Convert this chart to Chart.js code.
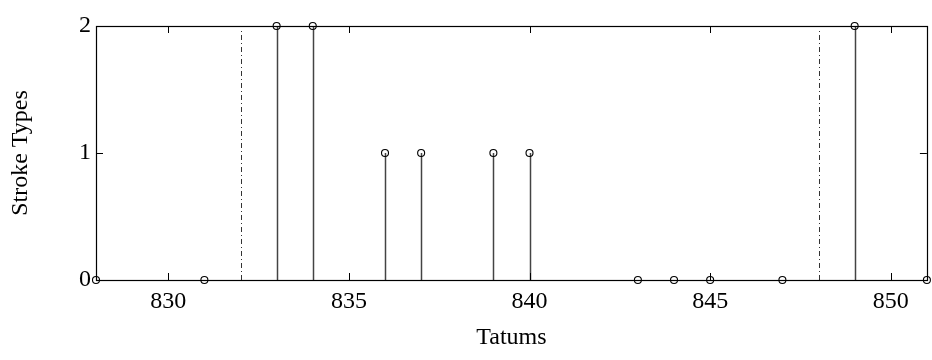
<!DOCTYPE html>
<html>
<head>
<meta charset="utf-8">
<script src="https://cdn.jsdelivr.net/npm/chart.js@4/dist/chart.umd.min.js"></script>
<style>
html,body{margin:0;padding:0;background:#fff;}
#wrap{width:932px;height:360px;}
</style>
</head>
<body>
<div id="wrap"><canvas id="c" width="932" height="360"></canvas></div>
<script>
// Data
const tatums = [828, 831, 833, 834, 836, 837, 839, 840, 843, 844, 845, 847, 849, 851];
const strokeTypes = [0, 0, 2, 2, 1, 1, 1, 1, 0, 0, 0, 0, 2, 0];
const boundaries = [832, 848];
const boundaryTop = 1.97;
const xTicks = [830, 835, 840, 845, 850];
const yTicks = [0, 1, 2];

const FONT = "'Liberation Serif', 'Times New Roman', serif";

const stemPlugin = {
  id: 'stems',
  beforeDatasetsDraw(chart) {
    const ctx = chart.ctx, xs = chart.scales.x, ys = chart.scales.y;
    const a = chart.chartArea;
    ctx.save();
    // boundaries (dash-dot)
    ctx.strokeStyle = '#333';
    ctx.lineWidth = 1;
    ctx.setLineDash([5, 3, 1, 3]);
    boundaries.forEach(b => {
      const px = Math.round(xs.getPixelForValue(b)) + 0.5;
      ctx.beginPath();
      ctx.moveTo(px, ys.getPixelForValue(0));
      ctx.lineTo(px, ys.getPixelForValue(boundaryTop));
      ctx.stroke();
    });
    ctx.setLineDash([]);
    // stems
    ctx.strokeStyle = '#444';
    ctx.lineWidth = 1.5;
    tatums.forEach((t, i) => {
      if (strokeTypes[i] === 0) return;
      const px = Math.round(xs.getPixelForValue(t)) + 0.5;
      ctx.beginPath();
      ctx.moveTo(px, ys.getPixelForValue(0));
      ctx.lineTo(px, ys.getPixelForValue(strokeTypes[i]));
      ctx.stroke();
    });
    // box
    ctx.strokeStyle = '#000';
    ctx.lineWidth = 1.2;
    ctx.strokeRect(Math.round(a.left) + 0.5, Math.round(a.top) + 0.5,
                   Math.round(a.right - a.left), Math.round(a.bottom - a.top));
    // inward ticks
    const TL = 7;
    ctx.lineWidth = 1;
    xTicks.forEach(v => {
      const px = Math.round(xs.getPixelForValue(v)) + 0.5;
      ctx.beginPath();
      ctx.moveTo(px, a.bottom); ctx.lineTo(px, a.bottom - TL);
      ctx.moveTo(px, a.top); ctx.lineTo(px, a.top + TL);
      ctx.stroke();
    });
    yTicks.forEach(v => {
      const py = Math.round(ys.getPixelForValue(v)) + 0.5;
      ctx.beginPath();
      ctx.moveTo(a.left, py); ctx.lineTo(a.left + TL, py);
      ctx.moveTo(a.right, py); ctx.lineTo(a.right - TL, py);
      ctx.stroke();
    });
    ctx.restore();
  }
};

new Chart(document.getElementById('c'), {
  type: 'scatter',
  data: {
    datasets: [{
      data: tatums.map((t, i) => ({x: t, y: strokeTypes[i]})),
      pointStyle: 'circle',
      pointRadius: 3.5,
      pointBorderWidth: 1.1,
      pointBorderColor: '#000',
      pointBackgroundColor: 'rgba(255,255,255,0)',
      clip: false
    }]
  },
  options: {
    responsive: false,
    animation: false,
    layout: {padding: {left: 0, right: 4, top: 26, bottom: 0}},
    plugins: {legend: {display: false}, tooltip: {enabled: false}},
    scales: {
      x: {
        type: 'linear', min: 828, max: 851,
        afterBuildTicks(s) { s.ticks = xTicks.map(v => ({value: v})); },
        afterFit(s) { s.height = 80; },
        grid: {display: false, drawTicks: false},
        border: {display: false},
        ticks: {color: '#000', font: {family: FONT, size: 24}, padding: 7, maxRotation: 0, autoSkip: false},
        title: {display: true, text: 'Tatums', color: '#000', font: {family: FONT, size: 24}, padding: 8}
      },
      y: {
        type: 'linear', min: 0, max: 2,
        afterBuildTicks(s) { s.ticks = yTicks.map(v => ({value: v})); },
        afterFit(s) { s.width = 96; },
        grid: {display: false, drawTicks: false},
        border: {display: false},
        ticks: {color: '#000', font: {family: FONT, size: 24}, padding: 5},
        title: {display: true, text: 'Stroke Types', color: '#000', font: {family: FONT, size: 24}, padding: 6}
      }
    }
  },
  plugins: [stemPlugin]
});
</script>
</body>
</html>
